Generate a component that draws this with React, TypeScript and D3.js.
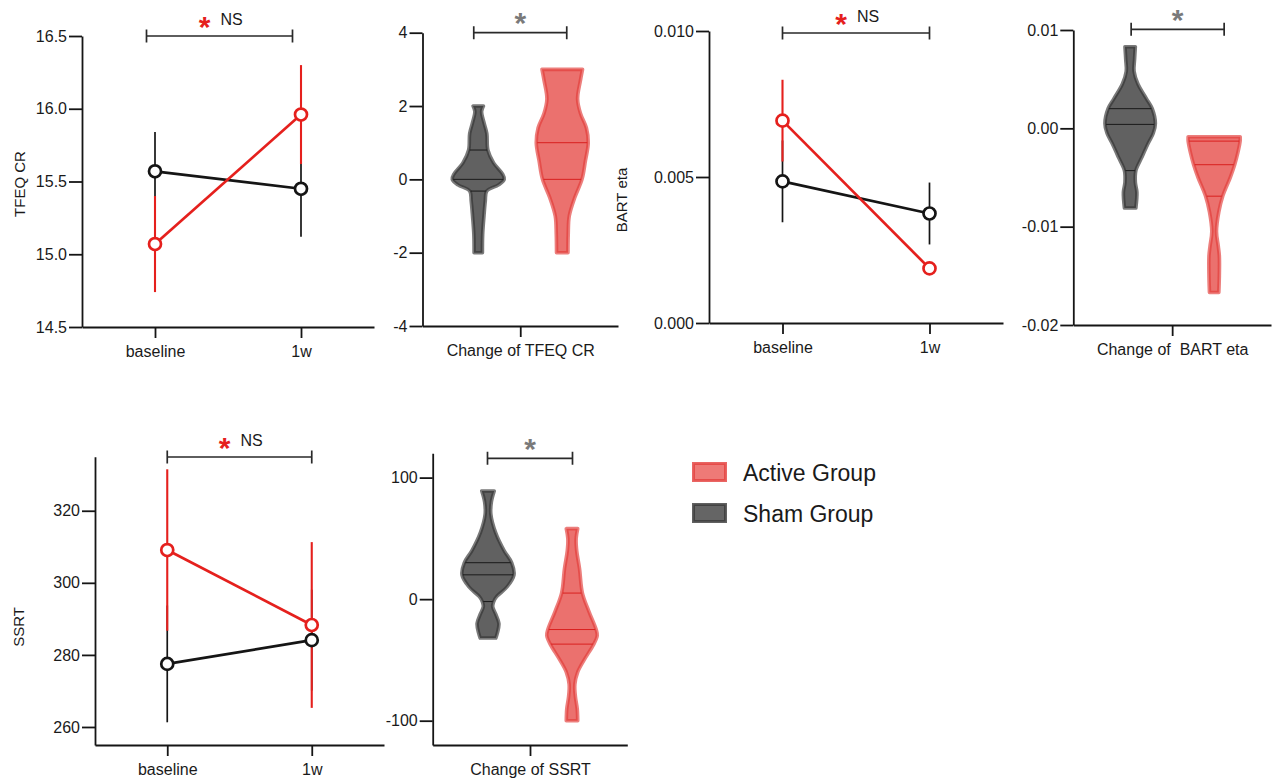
import { useEffect, useRef } from 'react';
import * as d3 from 'd3';

const timePoints = ['baseline', '1w'];
const legendLabels = ['Active Group', 'Sham Group'];

// TFEQ CR, mean and error per time point
const tfeqSham = [15.57, 15.45];
const tfeqShamErr = [0.27, 0.33];
const tfeqActive = [15.07, 15.96];
const tfeqActiveErr = [0.33, 0.34];
const tfeqTicks = [14.5, 15.0, 15.5, 16.0, 16.5];

// BART eta
const bartSham = [0.00485, 0.00375];
const bartShamErr = [0.0014, 0.00106];
const bartActive = [0.00693, 0.00187];
const bartActiveErr = [0.0014, 0.0002];
const bartTicks = [0, 0.005, 0.01];

// SSRT
const ssrtSham = [277.5, 284.1];
const ssrtShamErr = [16.2, 14];
const ssrtActive = [309.1, 288.3];
const ssrtActiveErr = [22.4, 23];
const ssrtTicks = [260, 280, 300, 320];

// violins: value, relative density, quartile lines
const tfeqChgShamV = [2, 1.85, 1.55, 1.25, 0.8, 0.45, 0.15, 0, -0.15, -0.32, -0.6, -1, -1.5, -2];
const tfeqChgShamD = [0.2, 0.13, 0.22, 0.33, 0.37, 0.59, 0.93, 1, 0.78, 0.33, 0.27, 0.22, 0.17, 0.16];
const tfeqChgShamQ = [0.8, 0, -0.32];
const tfeqChgActiveV = [3, 2.7, 2.2, 1.8, 1.4, 1, 0.5, 0, -0.5, -1, -1.5, -2];
const tfeqChgActiveD = [0.78, 0.7, 0.59, 0.7, 0.93, 1, 0.89, 0.76, 0.48, 0.27, 0.23, 0.22];
const tfeqChgActiveQ = [1, 0];
const tfeqChgTicks = [-4, -2, 0, 2, 4];

const bartChgShamV = [0.0083, 0.007, 0.0058, 0.0045, 0.003, 0.002, 0.0005, -0.0005, -0.0015, -0.003, -0.0043, -0.0055, -0.0065, -0.0081];
const bartChgShamD = [0.2, 0.17, 0.15, 0.3, 0.63, 0.85, 0.97, 0.89, 0.7, 0.44, 0.22, 0.2, 0.26, 0.22];
const bartChgShamQ = [0.002, 0.0004, -0.0043];
const bartChgActiveV = [-0.00085, -0.0013, -0.0025, -0.0037, -0.005, -0.0069, -0.0085, -0.0105, -0.012, -0.013, -0.015, -0.0167];
const bartChgActiveD = [1, 1, 0.91, 0.79, 0.62, 0.33, 0.18, 0.09, 0.16, 0.2, 0.2, 0.18];
const bartChgActiveQ = [-0.0013, -0.0037, -0.0069];
const bartChgTicks = [-0.02, -0.01, 0, 0.01];

const ssrtChgShamV = [89, 80, 70, 55, 40, 30, 20, 10, 2, -2, -6, -12, -20, -28, -32];
const ssrtChgShamD = [0.24, 0.13, 0.11, 0.29, 0.62, 0.91, 1, 0.73, 0.33, 0.22, 0.18, 0.29, 0.42, 0.36, 0.3];
const ssrtChgShamQ = [30, 20, -2];
const ssrtChgActiveV = [58, 50, 40, 25, 5, -10, -25, -30, -37, -50, -60, -70, -80, -90, -100];
const ssrtChgActiveD = [0.22, 0.16, 0.18, 0.29, 0.4, 0.65, 0.93, 0.97, 0.84, 0.47, 0.22, 0.11, 0.13, 0.2, 0.22];
const ssrtChgActiveQ = [5, -25, -37];
const ssrtChgTicks = [-100, 0, 100];

const FONT = '"Liberation Sans", Arial, Helvetica, sans-serif';
const RED = '#e5201d';
const INK = '#151515';

function styleAxis(a: any) {
  a.attr('font-family', FONT).attr('font-size', 16);
  a.selectAll('path, line').attr('stroke', INK).attr('stroke-width', 1.8);
  a.selectAll('text').attr('fill', '#1a1a1a');
}

function drawSig(g: any, x1: number, x2: number, yb: number, starColor: string, withNS: boolean) {
  g.append('path')
    .attr('d', `M${x1},${yb - 6.5}V${yb + 6.5}M${x1},${yb}H${x2}M${x2},${yb - 6.5}V${yb + 6.5}`)
    .attr('fill', 'none').attr('stroke', '#2a2a2a').attr('stroke-width', 1.7);
  const c = (x1 + x2) / 2;
  g.append('text')
    .attr('x', withNS ? c - 15 : c).attr('y', yb + 0.5)
    .attr('text-anchor', 'middle').attr('font-family', FONT).attr('font-weight', 'bold')
    .attr('font-size', 30).attr('fill', starColor).text('*');
  if (withNS) {
    g.append('text').attr('x', c + 1).attr('y', yb - 11.5)
      .attr('font-family', FONT).attr('font-size', 16).attr('fill', '#1a1a1a').text('NS');
  }
}

function drawLinePanel(svg: any, p: any) {
  const g = svg.append('g');
  const x = d3.scalePoint<string>().domain(timePoints).range([p.left, p.right]).padding(0.5);
  const y = d3.scaleLinear().domain(p.domain).range([p.bottom, p.top]);

  const ya = g.append('g').attr('transform', `translate(${p.left},0)`)
    .call(d3.axisLeft(y).tickValues(p.ticks).tickFormat(p.fmt).tickSize(13).tickPadding(2).tickSizeOuter(0));
  const xa = g.append('g').attr('transform', `translate(0,${p.bottom})`)
    .call(d3.axisBottom(x).tickSize(11).tickPadding(8).tickSizeOuter(0));
  styleAxis(ya);
  styleAxis(xa);

  g.append('text')
    .attr('transform', `translate(${p.labelX},${p.labelY}) rotate(-90)`)
    .attr('text-anchor', 'middle').attr('font-family', FONT).attr('font-size', 15)
    .attr('fill', '#1a1a1a').text(p.yLabel);

  const series = [
    { mean: p.sham, err: p.shamErr, color: INK },
    { mean: p.active, err: p.activeErr, color: RED },
  ];
  series.forEach((s) => {
    g.append('g').selectAll('line').data(timePoints).join('line')
      .attr('x1', (d: string) => x(d)).attr('x2', (d: string) => x(d))
      .attr('y1', (_: string, i: number) => y(s.mean[i] - s.err[i]))
      .attr('y2', (_: string, i: number) => y(s.mean[i] + s.err[i]))
      .attr('stroke', s.color).attr('stroke-width', s.color === RED ? 2.1 : 1.7);
  });
  series.forEach((s) => {
    const line = d3.line<number>().x((_, i) => x(timePoints[i])!).y((d) => y(d));
    g.append('path').attr('d', line(s.mean)).attr('fill', 'none')
      .attr('stroke', s.color).attr('stroke-width', 2.7);
  });
  series.forEach((s) => {
    g.append('g').selectAll('circle').data(s.mean).join('circle')
      .attr('cx', (_: number, i: number) => x(timePoints[i])).attr('cy', (d: number) => y(d))
      .attr('r', 6).attr('fill', '#fff').attr('stroke', s.color).attr('stroke-width', 2.7);
  });

  drawSig(g, x(timePoints[0])! + p.bracketShift, x(timePoints[1])! + p.bracketShift, p.bracketY, RED, true);
}

function drawViolinPanel(svg: any, p: any) {
  const g = svg.append('g');
  const x = d3.scalePoint<string>().domain([p.label]).range([p.left, p.right]).padding(0.5);
  const y = d3.scaleLinear().domain(p.domain).range([p.bottom, p.top]);
  const w = d3.scaleLinear().domain([0, 1]).range([0, 26]);
  const cx = x(p.label)!;

  const ya = g.append('g').attr('transform', `translate(${p.left},0)`)
    .call(d3.axisLeft(y).tickValues(p.ticks).tickFormat(p.fmt).tickSize(13).tickPadding(2).tickSizeOuter(0));
  const xa = g.append('g').attr('transform', `translate(0,${p.bottom})`)
    .call(d3.axisBottom(x).tickSize(11).tickPadding(8).tickSizeOuter(0));
  styleAxis(ya);
  styleAxis(xa);
  xa.selectAll('text').style('white-space', 'pre');

  const violins = [
    { v: p.shamV, d: p.shamD, q: p.shamQ, cx: cx - 42, fill: '#616161', stroke: '#333', line: '#1a1a1a' },
    { v: p.activeV, d: p.activeD, q: p.activeQ, cx: cx + 42, fill: '#eb716e', stroke: '#e23a37', line: '#d9201f' },
  ];
  violins.forEach((vi) => {
    const pts = vi.v.map((val: number, i: number) => ({ val, den: vi.d[i] }));
    const area = d3.area<any>()
      .y((d) => y(d.val))
      .x0((d) => vi.cx - w(d.den))
      .x1((d) => vi.cx + w(d.den))
      .curve(d3.curveCatmullRom);
    g.append('path').attr('d', area(pts)).attr('fill', vi.fill)
      .attr('stroke', vi.stroke).attr('stroke-width', 3.6).attr('stroke-opacity', 0.65)
      .attr('stroke-linejoin', 'round');
    const dens = d3.scaleLinear().domain(vi.v).range(vi.d);
    g.append('g').selectAll('line').data(vi.q).join('line')
      .attr('x1', (q: number) => vi.cx - w(dens(q)) + 1)
      .attr('x2', (q: number) => vi.cx + w(dens(q)) - 1)
      .attr('y1', (q: number) => y(q)).attr('y2', (q: number) => y(q))
      .attr('stroke', vi.line).attr('stroke-width', 1);
  });

  drawSig(g, cx + p.bracket[0], cx + p.bracket[1], p.bracketY, '#7a7a7a', false);
}

export default function App() {
  const ref = useRef<SVGSVGElement>(null);

  useEffect(() => {
    if (!ref.current) return;
    const svg = d3.select(ref.current);
    svg.selectAll('*').remove();

    drawLinePanel(svg, {
      left: 82, right: 374, top: 36, bottom: 327, domain: [14.5, 16.5], ticks: tfeqTicks,
      fmt: (d: number) => d.toFixed(1), yLabel: 'TFEQ CR', labelX: 24.5, labelY: 184,
      sham: tfeqSham, shamErr: tfeqShamErr, active: tfeqActive, activeErr: tfeqActiveErr,
      bracketY: 36, bracketShift: -8.5,
    });
    drawLinePanel(svg, {
      left: 709, right: 1003, top: 31, bottom: 323, domain: [0, 0.01], ticks: bartTicks,
      fmt: (d: number) => d.toFixed(3), yLabel: 'BART eta', labelX: 627, labelY: 200,
      sham: bartSham, shamErr: bartShamErr, active: bartActive, activeErr: bartActiveErr,
      bracketY: 33, bracketShift: 0,
    });
    drawLinePanel(svg, {
      left: 95, right: 384, top: 456.7, bottom: 745, domain: [255, 335], ticks: ssrtTicks,
      fmt: (d: number) => d.toFixed(0), yLabel: 'SSRT', labelX: 23.5, labelY: 627,
      sham: ssrtSham, shamErr: ssrtShamErr, active: ssrtActive, activeErr: ssrtActiveErr,
      bracketY: 457, bracketShift: 0,
    });

    drawViolinPanel(svg, {
      left: 422.5, right: 618, top: 32.7, bottom: 326, domain: [-4, 4], ticks: tfeqChgTicks,
      fmt: (d: number) => d.toFixed(0), label: 'Change of TFEQ CR',
      shamV: tfeqChgShamV, shamD: tfeqChgShamD, shamQ: tfeqChgShamQ,
      activeV: tfeqChgActiveV, activeD: tfeqChgActiveD, activeQ: tfeqChgActiveQ,
      bracket: [-46.5, 46.5], bracketY: 32.7,
    });
    drawViolinPanel(svg, {
      left: 1073.3, right: 1271, top: 30, bottom: 325, domain: [-0.02, 0.01], ticks: bartChgTicks,
      fmt: (d: number) => d.toFixed(2), label: 'Change of  BART eta',
      shamV: bartChgShamV, shamD: bartChgShamD, shamQ: bartChgShamQ,
      activeV: bartChgActiveV, activeD: bartChgActiveD, activeQ: bartChgActiveQ,
      bracket: [-41, 52], bracketY: 29.3,
    });
    drawViolinPanel(svg, {
      left: 432.7, right: 627.3, top: 453.3, bottom: 745, domain: [-120, 120], ticks: ssrtChgTicks,
      fmt: (d: number) => d.toFixed(0), label: 'Change of SSRT',
      shamV: ssrtChgShamV, shamD: ssrtChgShamD, shamQ: ssrtChgShamQ,
      activeV: ssrtChgActiveV, activeD: ssrtChgActiveD, activeQ: ssrtChgActiveQ,
      bracket: [-42.5, 42.5], bracketY: 458.3,
    });

    // legend
    const legend = svg.append('g').attr('transform', 'translate(692,462)');
    const swatch = [
      { fill: '#ee7a77', stroke: '#e4403d' },
      { fill: '#656565', stroke: '#3a3a3a' },
    ];
    legendLabels.forEach((lab, i) => {
      const row = legend.append('g').attr('transform', `translate(0,${i * 41})`);
      row.append('rect').attr('x', 1.5).attr('y', 1.5).attr('width', 32).attr('height', 17)
        .attr('fill', swatch[i].fill).attr('stroke', swatch[i].stroke)
        .attr('stroke-width', 3).attr('stroke-opacity', 0.8);
      row.append('text').attr('x', 51).attr('y', 18.5).attr('font-family', FONT)
        .attr('font-size', 23).attr('fill', '#1a1a1a').text(lab);
    });
  }, []);

  return (
    <svg ref={ref} width={1272} height={779}
      style={{ position: 'absolute', left: 0, top: 0, background: '#fff' }} />
  );
}
